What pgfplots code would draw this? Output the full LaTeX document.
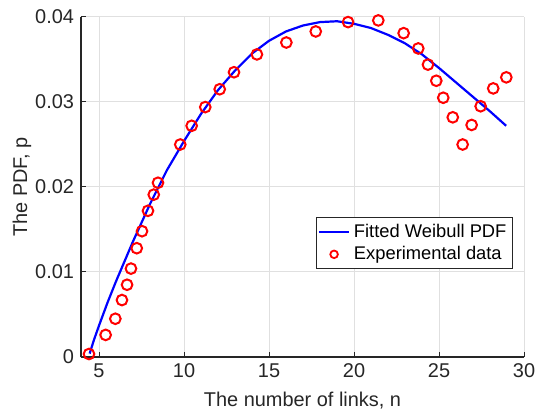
\documentclass[border=0pt]{standalone}
\usepackage{fontspec}
\setmainfont{Liberation Sans}
\usepackage{pgfplots}
\pgfplotsset{compat=1.18}
\definecolor{axgray}{rgb}{0.15,0.15,0.15}
\definecolor{gridgray}{rgb}{0.88,0.88,0.88}
\begin{document}
\begin{tikzpicture}
\useasboundingbox (-40.5bp,-28bp) rectangle (227.5bp,178.5bp);
\begin{axis}[
  scale only axis,
  width=221.5bp, height=170bp,
  xmin=3.94, xmax=30, ymin=0, ymax=0.04,
  axis x line=bottom, axis y line=left,
  axis line style={axgray, line width=0.6bp, -},
  xtick={5,10,15,20,25,30},
  ytick={0,0.01,0.02,0.03,0.04},
  yticklabels={0,0.01,0.02,0.03,0.04},
  scaled y ticks=false,
  tick align=inside,
  major tick length=2.5bp,
  tick style={axgray, line width=0.5bp},
  grid=major,
  major grid style={gridgray, line width=0.5bp},
  /pgf/number format/assume math mode=true,
  ticklabel style={font=\fontsize{10}{12}\selectfont, text=axgray},
  xlabel={The number of links, n},
  ylabel={The PDF, p},
  label style={font=\fontsize{10}{12}\selectfont, text=axgray},
  ylabel style={at={(axis description cs:-0.1332,0.5)}, anchor=center},
  legend cell align=left,
  legend style={at={(0.975,0.259)}, anchor=south east, draw=axgray, line width=0.5bp,
    font=\fontsize{9.2}{11}\selectfont, text=black, inner xsep=1bp, inner ysep=1bp, row sep=-1bp},
]
\addplot[blue, line width=1.1bp, legend image code/.code={\draw[blue, line width=0.9bp] (0bp,0bp) -- (15bp,0bp);}] coordinates {
(4.45,0.0004) (4.7,0.0020) (5.0,0.0037) (5.5,0.0064) (6,0.0089) (7,0.0136)
(8,0.0180) (9,0.0220) (10,0.0254) (11,0.0286) (12,0.0314) (13,0.0337)
(14,0.0357) (15,0.0372) (16,0.0383) (17,0.0390) (18,0.0394) (19,0.0395)
(20,0.0392) (21,0.0387) (22,0.0379) (23,0.0369) (24,0.0356) (25,0.0340)
(26,0.0323) (27,0.0306) (28,0.0289) (28.95,0.0272)
};
\addlegendentry{Fitted Weibull PDF}
\addplot[only marks, mark=o, mark size=2.67bp, red, line width=1bp,
  legend image code/.code={\draw[red, line width=0.9bp] (7.5bp,0bp) circle (1.9bp);}] coordinates {
(4.41,0.00035) (5.39,0.0026) (5.96,0.0045) (6.35,0.0067) (6.65,0.0085)
(6.88,0.0104) (7.22,0.0128) (7.53,0.0148) (7.88,0.0172) (8.22,0.0191)
(8.47,0.0205) (9.78,0.0250) (10.45,0.0272) (11.25,0.0294) (12.10,0.0315)
(12.94,0.0335) (14.29,0.0356) (16.02,0.0370) (17.75,0.0383) (19.65,0.0394)
(21.43,0.0396) (22.92,0.0381) (23.78,0.0363) (24.35,0.0344) (24.84,0.0325)
(25.25,0.0305) (25.81,0.0282) (26.39,0.0250) (26.92,0.0273) (27.45,0.0295)
(28.19,0.0316) (28.96,0.0329)
};
\addlegendentry{Experimental data}
\end{axis}
\end{tikzpicture}
\end{document}
